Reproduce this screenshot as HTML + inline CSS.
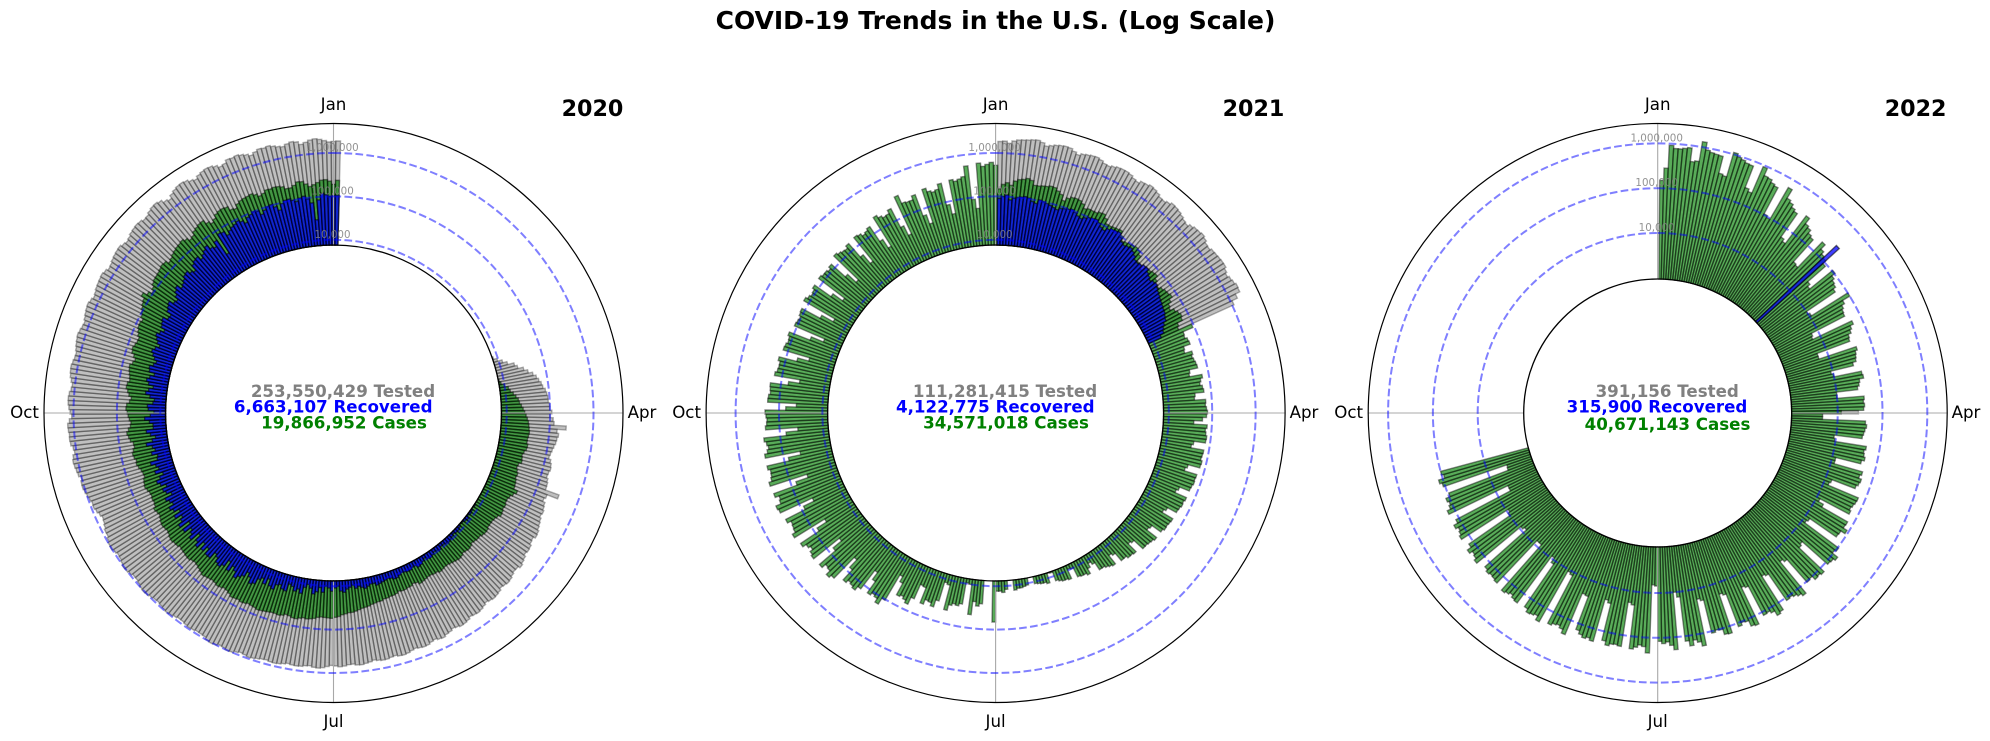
<!DOCTYPE html>
<html lang="en">
<head>
<meta charset="utf-8">
<title>COVID-19 Trends in the U.S. (Log Scale)</title>
<style>
html,body{margin:0;padding:0;background:#fff;width:1990px;height:741px;overflow:hidden}
svg{display:block;font-family:"DejaVu Sans","Liberation Sans",sans-serif}
.month{font-size:16.67px;fill:#000;text-anchor:middle}
.year{font-size:22.2px;font-weight:bold;fill:#000;text-anchor:middle}
.sum{font-size:16.67px;font-weight:bold;text-anchor:middle}
.tick{font-size:10.3px;fill:#808080;fill-opacity:.85;text-anchor:middle}
</style>
</head>
<body>
<svg id="chart" xmlns="http://www.w3.org/2000/svg" width="1990" height="741" viewBox="0 0 1990 741">
  <text x="995.5" y="29" text-anchor="middle" font-size="25" font-weight="bold">COVID-19 Trends in the U.S. (Log Scale)</text>

  <g id="panel-2020">
    <g id="layer-2020"></g>
    <text class="year" x="592.5" y="116">2020</text>
    <text class="month" x="333.5" y="110">Jan</text>
    <text class="month" x="642" y="418">Apr</text>
    <text class="month" x="333.5" y="727">Jul</text>
    <text class="month" x="24.5" y="418">Oct</text>
    <text class="sum" x="343" y="397" fill="#808080">253,550,429 Tested</text>
    <text class="sum" x="333.2" y="412.5" fill="#0000ff">6,663,107 Recovered</text>
    <text class="sum" x="344" y="428.5" fill="#008000">19,866,952 Cases</text>
  </g>

  <g id="panel-2021">
    <g id="layer-2021"></g>
    <text class="year" x="1253.5" y="116">2021</text>
    <text class="month" x="995.6" y="110">Jan</text>
    <text class="month" x="1304" y="418">Apr</text>
    <text class="month" x="995.6" y="727">Jul</text>
    <text class="month" x="686.6" y="418">Oct</text>
    <text class="sum" x="1005" y="397" fill="#808080">111,281,415 Tested</text>
    <text class="sum" x="995.3" y="412.5" fill="#0000ff">4,122,775 Recovered</text>
    <text class="sum" x="1006" y="428.5" fill="#008000">34,571,018 Cases</text>
  </g>

  <g id="panel-2022">
    <g id="layer-2022"></g>
    <text class="year" x="1915.6" y="116">2022</text>
    <text class="month" x="1657.7" y="110">Jan</text>
    <text class="month" x="1966" y="418">Apr</text>
    <text class="month" x="1657.7" y="727">Jul</text>
    <text class="month" x="1348.7" y="418">Oct</text>
    <text class="sum" x="1667.2" y="397" fill="#808080">391,156 Tested</text>
    <text class="sum" x="1657" y="412.5" fill="#0000ff">315,900 Recovered</text>
    <text class="sum" x="1667.5" y="430" fill="#008000">40,671,143 Cases</text>
  </g>
</svg>

<script>
// Daily counts in thousands. Each series starts on the named day of year.
const tickValues = [10, 100, 1000];
const tickLabels = ['10,000', '100,000', '1,000,000'];

const tested2020Start = 72;
const tested2020 = [
8,9.5,12,15,21,24,32,39,49,
57,63,70,74,83,88,92,92,98,98,
110,100,118,125,240,150,165,155,150,140,
132,125,120,135,145,150,142,138,150,158,
160,345,190,175,200,210,225,215,235,250,
265,290,300,270,280,310,320,305,340,360,
390,350,345,370,400,415,395,380,420,440,
450,430,405,440,470,490,475,455,500,525,
535,500,480,520,540,590,570,530,555,600,
610,590,560,590,630,650,640,600,620,650,
655,630,600,640,670,700,690,650,660,700,
720,690,670,710,760,790,770,720,740,780,
790,780,750,790,830,850,840,800,820,860,
900,930,880,850,900,990,1010,950,920,1000,
1040,1000,900,880,870,910,940,900,860,850,
900,960,1000,960,920,880,900,950,1010,1040,
1000,930,880,880,950,1010,1030,960,900,880,
940,1020,1000,930,850,850,780,730,700,760,
830,890,870,930,990,1050,1100,1090,1020,1150,
1200,1260,1300,1230,1100,1150,1280,1320,1300,1350,
1380,1250,1100,1200,1280,1340,1350,1300,1200,1150,
1250,1350,1400,1420,1350,1280,1250,1330,1400,1450,
1500,1430,1350,1300,1400,1480,1550,1600,1500,1380,
1450,1550,1600,1650,1700,1600,1450,1500,1620,1700,
1760,1800,1650,1550,1650,1800,1880,1950,1900,1750,
1800,2000,2150,2200,2050,1750,1600,1900,2100,2250,
2300,2200,1950,1800,2050,2200,2300,2250,2050,1800,
1900,2200,2150,2250,2100,1950,1750,1950,2150,2100,
2200,2050,1900,1800,2000,2150,2050,1750,1900,2100,
2200,2100,1950,1800,1850,1900
];

const cases2020Start = 80;
const cases2020 = [
7.9,8.5,10,12,13,15,17,19,20,22,
24,26,28,30,32,33,34,35,34,33,
33,35,34,31,29,30,31,27,26,28,
30,29,31,32,33,41,36,32,30,30,
32,31,33,34,30,28,27,27,27,29,
29,28,26,26,25,24,26,27,26,25,
27,28,27,26,25,24,24,25,26,24,
24,23,23,24,25,26,23,22,24,24,
25,25,24,26,27,27,28,28,30,30,
31,32,34,35,36,38,40,42,42,44,
46,50,52,55,54,53,52,54,58,60,
62,60,63,67,66,62,60,65,68,66,
66,68,70,72,74,70,68,66,70,72,
68,70,72,65,60,58,62,64,60,58,
60,62,65,60,56,52,50,52,56,55,
53,52,50,54,55,58,56,52,50,52,
54,52,48,45,47,50,44,42,43,41,
42,45,48,46,44,40,41,43,47,50,
48,52,54,50,46,47,54,58,62,56,
50,48,52,55,58,62,60,52,48,55,
60,66,64,58,60,63,66,68,60,55,
62,72,75,70,66,65,72,78,84,85,
80,92,100,110,120,128,156,125,105,118,
135,145,148,152,160,170,165,140,150,165,
175,185,190,200,180,155,165,195,210,225,
230,185,160,180,215,230,235,225,180,170,
205,225,235,240,250,225,195,210,240,235,
245,240,225,195,195,215,250,245,210,180,
195,215,240,245,225,190,235
];

const recovered2020Start = 125;
const recovered2020 = [
8,7.6,8.2,8.5,8,9,8.5,8,7.8,8.5,
9,9,8.5,9,9.5,10,9.5,9,9,10,
9.5,9,10,10.5,10,9,10,11,11.5,10,
10,11,11,10.5,10,11,12,12,11,10.5,
11,11.5,12,12.5,11,11,12,13,12,11,
12,10,11,12,14,13,10,11,13,11,
10,14,11,14,16,12,10,12,17,14,
16,13,12,18,17,14,15,20,18,13,
18,14,16,22,24,18,15,20,23,27,
20,17,24,15,22,26,24,19,17,25,
25,18,24,17,26,21,15,25,20,17,
25,15,26,20,17,24,16,21,24,18,
20,23,15,19,21,16,21,24,19,15,
22,17,19,24,16,15,20,16,18,24,
17,14,18,22,15,15,18,23,17,14,
19,20,15,14,18,23,20,16,21,24,
21,17,23,24,20,18,21,24,27,24,
20,24,27,30,26,22,28,30,32,25,
24,32,35,38,30,28,34,40,45,35,
38,42,48,50,42,38,52,58,60,48,
55,62,70,55,50,65,26,82,78,60,
70,78,82,90,80,68,85,92,100,95,
75,88,100,105,88,70,95,108,110,100,
90,105,112,95,75,30,85,120,110,100,
105,105
];

const tested2021Start = 1;
const tested2021 = [
1850,1900,1700,1950,2100,2150,2200,2300,2350,2150,
1850,2000,2150,2250,2300,2250,2000,1800,2000,2100,
2200,2250,2100,1900,1850,2000,2150,2200,2200,2100,
1900,1800,2050,2100,2250,2150,2000,1800,1750,1900,
2100,2050,1950,1800,1650,1550,1750,1900,1950,2050,
1900,1700,1650,1800,1850,1900,1950,1950,1750,1600,
1750,1850,2000,1950,1500,1100
];

const cases2021Start = 1;
const cases2021 = [
150,190,210,
185,235,260,270,290,270,215,
215,225,230,245,240,210,185,
140,170,190,195,190,170,140,
150,150,150,165,170,145,115,
115,120,125,130,105,85,90,
95,100,105,100,85,62,60,
52,68,70,75,78,65,55,
55,62,68,70,75,62,52,
48,58,65,70,65,48,44,
92,52,50,56,58,40,38,
56,52,55,58,60,38,36,
70,62,58,65,68,42,40,
72,70,74,78,74,60,38,
78,72,75,80,78,42,38,
76,74,72,78,76,40,36,
72,70,72,68,66,38,34,
66,62,64,60,58,34,30,
58,56,54,55,50,28,26,
50,46,44,42,42,22,20,
36,34,34,30,30,18,16,
28,26,24,22,22,14,12,
15,20,18,18,17,10,9.5,
16,15,15,14,13,8,7.8,
13,12,12,11.5,11,7,7,
11,11.5,12,12,13,7,7,
12,14,13,13,67,7,7,
7,26,30,24,49,10,9.5,
30,34,32,36,49,13,12,
34,50,42,40,52,22,21,
48,72,62,55,60,30,22,
105,150,120,110,125,60,38,
130,165,150,140,165,80,46,
215,250,190,180,230,75,42,
240,220,185,210,260,80,44,
290,240,230,220,270,85,46,
300,320,240,225,280,75,38,
295,250,235,230,260,78,40,
260,220,200,215,240,72,38,
210,195,190,200,210,70,40,
185,180,165,170,175,68,38,
150,135,130,130,145,55,30,
130,125,115,118,130,40,20,
115,110,105,115,120,40,20,
135,120,110,115,130,45,24,
135,125,125,115,130,48,26,
160,145,135,130,150,58,32,
160,150,130,140,155,60,35,
210,180,160,165,200,65,37,
320,200,190,190,235,70,42,
270,220,200,215,280,85,50,
300,270,290,320,550,90,55,
600,500,550,610,520
];

const recovered2021Start = 1;
const recovered2021 = [
90,100,110,85,95,100,105,110,105,90,85,105,100,95,90,85,80,90,95,100,
105,95,85,80,90,100,105,110,100,85,80,95,105,110,115,95,80,75,80,85,
78,70,60,58,62,68,70,60,55,50,55,58,52,48,45,42,40,38,36,35,
32,30,25,22,20,16
];

const cases2022Start = 1;
const cases2022 = [
150,282,920,790,790,830,880,
440,470,1320,900,830,800,780,
320,300,1100,950,880,800,780,
240,210,920,620,600,520,480,
105,95,630,380,340,290,260,
60,52,310,220,200,165,150,
33,31,190,140,120,110,90,
27,23,105,85,75,70,60,
10,11,100,65,55,50,48,
7,6.5,60,50,45,38,36,
6,6,45,40,38,36,30,
9,10,42,44,35,33,30,
10,10,40,38,40,38,12,
4.6,4.6,
42,45,42,40,38,9,9.5,
50,46,48,52,45,12,12,
55,50,58,55,50,14,13,
70,68,64,60,65,12,16,
74,72,90,70,68,13,12,
105,95,135,120,115,20,22,
130,120,125,100,105,22,19,
155,135,120,110,115,22,20,
155,170,130,115,120,22,20,
160,150,110,105,120,20,18,
145,140,105,100,110,19,17,
190,150,130,170,130,13,10,
190,150,125,135,120,7,6.6,
220,160,150,170,190,20,18,
180,170,175,195,160,23,20,
190,170,185,165,140,23,22,
220,180,160,170,190,12,11,
220,175,190,200,170,12,9,
180,170,150,165,180,8,8,
160,150,145,155,140,8,9,
170,150,140,165,130,10,9,
155,140,130,150,120,5,5,
145,120,110,120,95,3.6,3.5,
110,125,90,100
];

const recovered2022Start = 48;
const recovered2022 = [282];
const tested2022Start = 91;
const tested2022 = [29];

const SVG_NS = 'http://www.w3.org/2000/svg';
const RIM = 289.5;
const CY = 413;
const FILLS = {
  tested: { fill: '#808080', fillOpacity: 0.5, strokeOpacity: 0.3 },
  cases: { fill: '#008000', fillOpacity: 0.65, strokeOpacity: 0.45 },
  recovered: { fill: '#0000ff', fillOpacity: 0.75, strokeOpacity: 0.55 }
};

function radiusScale(decadeBase, decadePixels) {
  return function (thousands) {
    return decadeBase + decadePixels * (Math.log10(thousands * 1000) - 4);
  };
}
function polar(cx, radius, deg) {
  const a = deg * Math.PI / 180;
  return [cx + radius * Math.sin(a), CY - radius * Math.cos(a)];
}
function wedgePath(cx, r0, r1, a0, a1) {
  const p = polar(cx, r0, a0), q = polar(cx, r1, a0), s = polar(cx, r1, a1), t = polar(cx, r0, a1);
  return 'M' + p[0].toFixed(2) + ' ' + p[1].toFixed(2) +
    'L' + q[0].toFixed(2) + ' ' + q[1].toFixed(2) +
    'A' + r1.toFixed(2) + ' ' + r1.toFixed(2) + ' 0 0 1 ' + s[0].toFixed(2) + ' ' + s[1].toFixed(2) +
    'L' + t[0].toFixed(2) + ' ' + t[1].toFixed(2) +
    'A' + r0 + ' ' + r0 + ' 0 0 0 ' + p[0].toFixed(2) + ' ' + p[1].toFixed(2) + 'Z';
}
function drawSeries(layer, panel, scale, kind, values, start) {
  const look = FILLS[kind];
  const step = 360 / 365;
  values.forEach(function (v, i) {
    const r1 = scale(v);
    if (r1 <= panel.inner) return;
    const mid = (start + i) * step;
    const bar = document.createElementNS(SVG_NS, 'path');
    bar.setAttribute('d', wedgePath(panel.cx, panel.inner, r1, mid - step / 2, mid + step / 2));
    bar.setAttribute('fill', look.fill);
    bar.setAttribute('fill-opacity', look.fillOpacity);
    bar.setAttribute('stroke', '#000');
    bar.setAttribute('stroke-opacity', look.strokeOpacity);
    bar.setAttribute('stroke-width', '1.4');
    
    
    layer.appendChild(bar);
  });
}
function drawPanel(panel) {
  const layer = document.getElementById(panel.layer);
  const scale = radiusScale(panel.decadeBase, panel.decadePixels);

  panel.series.forEach(function (s) {
    drawSeries(layer, panel, scale, s.kind, s.values, s.start);
  });

  [0, 90, 180, 270].forEach(function (deg) {
    const a = polar(panel.cx, panel.inner, deg), b = polar(panel.cx, RIM, deg);
    const line = document.createElementNS(SVG_NS, 'line');
    line.setAttribute('x1', a[0]);
    line.setAttribute('y1', a[1]);
    line.setAttribute('x2', b[0]);
    line.setAttribute('y2', b[1]);
    line.setAttribute('stroke', '#a8a8a8');
    line.setAttribute('stroke-width', '1.1');
    
    
    layer.appendChild(line);
  });

  tickValues.forEach(function (v, i) {
    const r = scale(v);
    const ring = document.createElementNS(SVG_NS, 'circle');
    ring.setAttribute('cx', panel.cx);
    ring.setAttribute('cy', CY);
    ring.setAttribute('r', r);
    ring.setAttribute('fill', 'none');
    ring.setAttribute('stroke', '#0000ff');
    ring.setAttribute('stroke-opacity', '0.5');
    ring.setAttribute('stroke-width', '2');
    ring.setAttribute('stroke-dasharray', '7.7 3.3');
    ring.setAttribute('transform', 'rotate(-90 ' + panel.cx + ' ' + CY + ')');
    
    
    layer.appendChild(ring);

    const label = document.createElementNS(SVG_NS, 'text');
    label.setAttribute('class', 'tick');
    label.setAttribute('x', panel.cx - 1);
    label.setAttribute('y', CY - r - 2);
    label.textContent = tickLabels[i];
    
    
    layer.appendChild(label);
  });

  const innerCircle = document.createElementNS(SVG_NS, 'circle');
  innerCircle.setAttribute('cx', panel.cx);
  innerCircle.setAttribute('cy', CY);
  innerCircle.setAttribute('r', panel.inner);
  innerCircle.setAttribute('fill', 'none');
  innerCircle.setAttribute('stroke', '#000');
  innerCircle.setAttribute('stroke-width', '1.3');
  
  
  layer.appendChild(innerCircle);

  const rim = document.createElementNS(SVG_NS, 'circle');
  rim.setAttribute('cx', panel.cx);
  rim.setAttribute('cy', CY);
  rim.setAttribute('r', RIM);
  rim.setAttribute('fill', 'none');
  rim.setAttribute('stroke', '#000');
  rim.setAttribute('stroke-width', '1.2');
  
  
  layer.appendChild(rim);
}

drawPanel({
  layer: 'layer-2020', cx: 333.5, inner: 168, decadeBase: 173.2, decadePixels: 43.4,
  series: [
    { kind: 'tested', values: tested2020, start: tested2020Start },
    { kind: 'cases', values: cases2020, start: cases2020Start },
    { kind: 'recovered', values: recovered2020, start: recovered2020Start }
  ]
});
drawPanel({
  layer: 'layer-2021', cx: 995.6, inner: 168, decadeBase: 173.2, decadePixels: 43.4,
  series: [
    { kind: 'tested', values: tested2021, start: tested2021Start },
    { kind: 'cases', values: cases2021, start: cases2021Start },
    { kind: 'recovered', values: recovered2021, start: recovered2021Start }
  ]
});
drawPanel({
  layer: 'layer-2022', cx: 1657.7, inner: 134, decadeBase: 180, decadePixels: 44.8,
  series: [
    { kind: 'tested', values: tested2022, start: tested2022Start },
    { kind: 'cases', values: cases2022, start: cases2022Start },
    { kind: 'recovered', values: recovered2022, start: recovered2022Start }
  ]
});
</script>
</body>
</html>
